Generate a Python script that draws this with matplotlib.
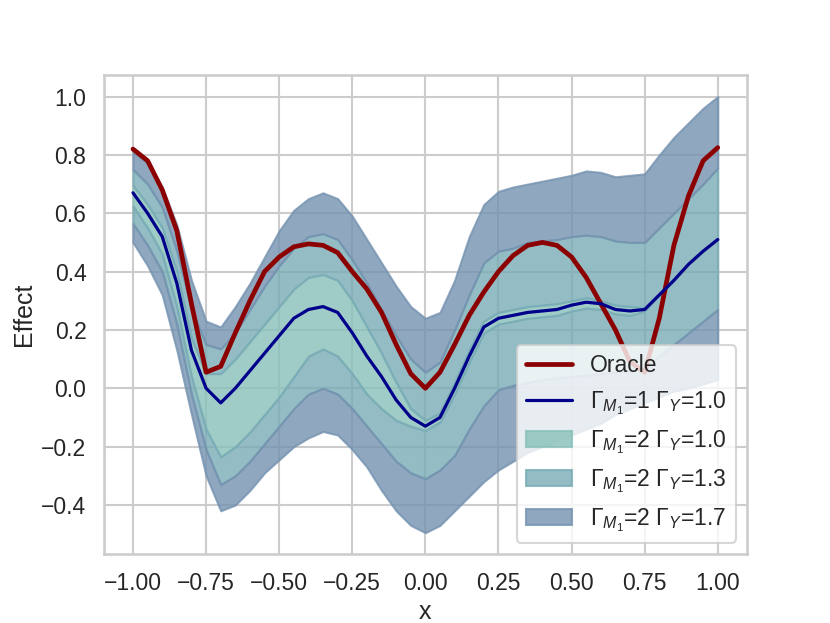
import matplotlib
matplotlib.use('Agg')
import matplotlib.pyplot as plt
import numpy as np
import seaborn as sns

x = np.linspace(-1, 1, 41)

oracle = [0.82, 0.78, 0.68, 0.54, 0.29, 0.055, 0.075, 0.19, 0.30, 0.40,
          0.45, 0.485, 0.495, 0.49, 0.465, 0.40, 0.34, 0.26, 0.15, 0.05,
          0.00, 0.055, 0.15, 0.25, 0.33, 0.40, 0.455, 0.49, 0.50, 0.49,
          0.45, 0.38, 0.29, 0.20, 0.09, 0.055, 0.24, 0.49, 0.66, 0.78, 0.825]

gamma1 = [0.67, 0.60, 0.52, 0.36, 0.13, 0.00, -0.05, 0.00, 0.06, 0.12,
          0.18, 0.24, 0.27, 0.28, 0.26, 0.19, 0.11, 0.04, -0.04, -0.10,
          -0.13, -0.10, 0.00, 0.11, 0.21, 0.24, 0.25, 0.26, 0.265, 0.27,
          0.285, 0.295, 0.29, 0.27, 0.265, 0.27, 0.32, 0.37, 0.425, 0.47, 0.51]

# Gamma_M1=2, Gamma_Y=1.0
lo_10 = [0.625, 0.55, 0.46, 0.28, 0.04, -0.14, -0.235, -0.20, -0.15, -0.09,
         -0.03, 0.04, 0.11, 0.135, 0.11, 0.05, -0.02, -0.07, -0.11, -0.13,
         -0.145, -0.115, -0.02, 0.09, 0.19, 0.22, 0.23, 0.24, 0.245, 0.25,
         0.265, 0.275, 0.27, 0.255, 0.25, 0.265, 0.32, 0.37, 0.425, 0.47, 0.51]
hi_10 = [0.695, 0.63, 0.55, 0.40, 0.17, 0.05, 0.05, 0.10, 0.16, 0.22,
         0.28, 0.34, 0.38, 0.39, 0.37, 0.30, 0.21, 0.12, 0.02, -0.07,
         -0.11, -0.085, 0.02, 0.13, 0.23, 0.26, 0.27, 0.28, 0.285, 0.29,
         0.30, 0.31, 0.30, 0.285, 0.28, 0.275, 0.32, 0.37, 0.425, 0.47, 0.51]

# Gamma_M1=2, Gamma_Y=1.3
lo_13 = [0.565, 0.49, 0.40, 0.22, -0.02, -0.21, -0.33, -0.30, -0.25, -0.19,
         -0.13, -0.07, -0.02, 0.00, -0.02, -0.07, -0.13, -0.19, -0.25, -0.29,
         -0.31, -0.28, -0.23, -0.14, -0.06, -0.005, 0.01, 0.02, 0.03, 0.035,
         0.04, 0.045, 0.05, 0.055, 0.06, 0.066, 0.11, 0.15, 0.19, 0.23, 0.27]
hi_13 = [0.75, 0.70, 0.62, 0.47, 0.27, 0.15, 0.135, 0.19, 0.27, 0.35,
         0.42, 0.48, 0.52, 0.53, 0.51, 0.44, 0.36, 0.27, 0.18, 0.10,
         0.055, 0.09, 0.20, 0.32, 0.43, 0.47, 0.48, 0.50, 0.505, 0.51,
         0.52, 0.525, 0.52, 0.505, 0.50, 0.50, 0.55, 0.60, 0.65, 0.70, 0.755]

# Gamma_M1=2, Gamma_Y=1.7
lo_17 = [0.50, 0.42, 0.32, 0.13, -0.09, -0.30, -0.42, -0.40, -0.35, -0.29,
         -0.245, -0.20, -0.17, -0.148, -0.16, -0.21, -0.27, -0.35, -0.42, -0.47,
         -0.495, -0.47, -0.42, -0.37, -0.32, -0.28, -0.25, -0.22, -0.20, -0.18,
         -0.16, -0.14, -0.12, -0.09, -0.07, -0.05, -0.03, -0.01, 0.00, 0.015, 0.03]
hi_17 = [0.81, 0.77, 0.69, 0.56, 0.37, 0.23, 0.21, 0.28, 0.36, 0.45,
         0.54, 0.61, 0.65, 0.67, 0.65, 0.59, 0.51, 0.43, 0.35, 0.28,
         0.24, 0.26, 0.37, 0.52, 0.63, 0.675, 0.69, 0.70, 0.71, 0.72,
         0.73, 0.745, 0.74, 0.725, 0.73, 0.735, 0.80, 0.86, 0.91, 0.96, 1.00]

labels = [r'$\Gamma_{M_1}$=2 $\Gamma_Y$=1.0',
          r'$\Gamma_{M_1}$=2 $\Gamma_Y$=1.3',
          r'$\Gamma_{M_1}$=2 $\Gamma_Y$=1.7']
colors = ['#88c0b9', '#78abb6', '#7492b0']

sns.set_theme(style='whitegrid', context='talk')
plt.rcParams['font.family'] = ['Liberation Sans', 'DejaVu Sans']
plt.rcParams['mathtext.fontset'] = 'custom'
plt.rcParams['mathtext.rm'] = 'Liberation Sans'
plt.rcParams['mathtext.it'] = 'Liberation Sans:italic'

fig, ax = plt.subplots(figsize=(8.3, 6.23), dpi=100)

ax.plot(x, oracle, color='darkred', lw=3.4, label='Oracle')
ax.plot(x, gamma1, color='darkblue', lw=2.3, label=r'$\Gamma_{M_1}$=1 $\Gamma_Y$=1.0')

# bands drawn side by side so they don't stack
ax.fill_between(x, lo_10, hi_10, color=colors[0], alpha=0.8, lw=1.5, label=labels[0])
ax.fill_between(x, hi_10, hi_13, color=colors[1], alpha=0.8, lw=1.5, label=labels[1])
ax.fill_between(x, lo_13, lo_10, color=colors[1], alpha=0.8, lw=1.5)
ax.fill_between(x, hi_13, hi_17, color=colors[2], alpha=0.8, lw=1.5, label=labels[2])
ax.fill_between(x, lo_17, lo_13, color=colors[2], alpha=0.8, lw=1.5)

ax.set_xlabel('x')
ax.set_ylabel('Effect')
ax.legend(loc='lower right')

fig.savefig('out.png', dpi=100)
